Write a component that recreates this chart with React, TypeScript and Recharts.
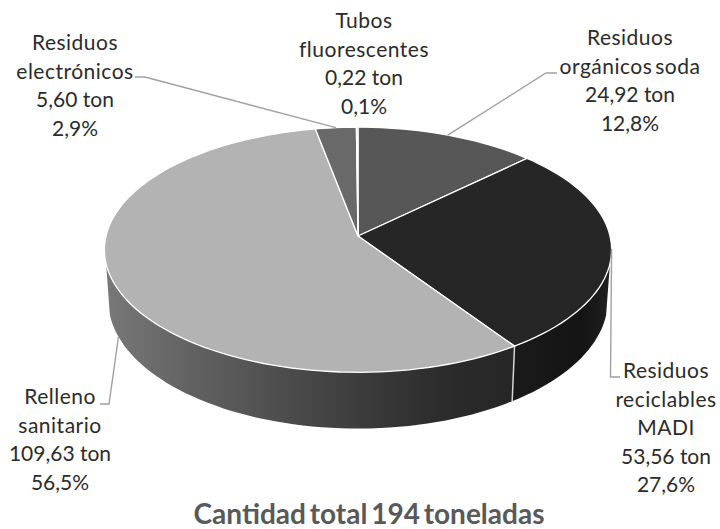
import React from "react";
import { Pie, PieChart } from "recharts";

// ── Data ───────────────────────────────────────────────────────────────────

const names = [
  "Residuos orgánicos soda",
  "Residuos reciclables MADI",
  "Relleno sanitario",
  "Residuos electrónicos",
  "Tubos fluorescentes",
];
const tons = [24.92, 53.56, 109.63, 5.6, 0.22];
const tonLabels = ["24,92 ton", "53,56 ton", "109,63 ton", "5,60 ton", "0,22 ton"];
const percentLabels = ["12,8%", "27,6%", "56,5%", "2,9%", "0,1%"];
const nameLines = [
  ["Residuos", "orgánicos soda"],
  ["Residuos", "reciclables", "MADI"],
  ["Relleno", "sanitario"],
  ["Residuos", "electrónicos"],
  ["Tubos", "fluorescentes"],
];
const title = "Cantidad total 194 toneladas";

const chartData = names.map((name, i) => ({ name, value: tons[i] }));

// ── Look ───────────────────────────────────────────────────────────────────

const topColors = ["#575757", "#262626", "#b3b3b3", "#696969", "#c4c4c4"];
const wallColors = ["#444", "url(#wallMadi)", "url(#wallRelleno)", "#444", "#444"];
const fontFamily = "Lato, 'Open Sans', sans-serif";

// text block centre + first baseline, and the elbow of the leader line
const labelBoxes = [
  { x: 630, y: 45, lineFrom: [557, 73], elbow: [546, 73], onWall: false, leader: true },
  { x: 666, y: 378, lineFrom: [620, 377], elbow: [610.5, 377], onWall: false, leader: true },
  { x: 60, y: 404, lineFrom: [100, 404], elbow: [109, 404], onWall: true, leader: true },
  { x: 75, y: 50, lineFrom: [135, 77], elbow: [145, 77], onWall: false, leader: true },
  { x: 364, y: 28, lineFrom: [358, 118], elbow: [358, 118], onWall: false, leader: false },
];

// ── Perspective of the tilted disc ─────────────────────────────────────────

const CX = 358;
const CY = 236;
const RADIUS = 252;
const SQUASH = 121;
const PERSPECTIVE = 0.112;
const DEPTH = 50;
// the side wall only shows between these two angles
const WALL_FROM = -13;
const WALL_TO = -167;

function project(angle: number, bottom = false) {
  const rad = (angle * Math.PI) / 180;
  const u = Math.cos(rad);
  const v = -Math.sin(rad);
  const w = 1 / (1 - PERSPECTIVE * v);
  if (bottom) {
    return { x: CX + RADIUS * u * w * 0.985, y: CY + SQUASH * v * w + DEPTH * w };
  }
  return { x: CX + RADIUS * u * w, y: CY + SQUASH * v * w };
}

function arc(from: number, to: number, bottom = false) {
  const steps = Math.max(2, Math.ceil(Math.abs(to - from) / 2));
  const pts: string[] = [];
  for (let i = 0; i <= steps; i++) {
    const p = project(from + ((to - from) * i) / steps, bottom);
    pts.push(`${p.x.toFixed(1)} ${p.y.toFixed(1)}`);
  }
  return pts;
}

// ── Sector shapes ──────────────────────────────────────────────────────────

function TopShape(props: any) {
  const { startAngle, endAngle, index } = props;
  const i = index ?? names.indexOf(props.name);
  const d = `M${CX} ${CY} L${arc(startAngle, endAngle).join(" L")} Z`;
  return <path d={d} fill={topColors[i]} stroke="#ffffff" strokeWidth={1.3} strokeLinejoin="round" />;
}

function WallShape(props: any) {
  const { startAngle, endAngle, index } = props;
  const i = index ?? names.indexOf(props.name);
  const hi = Math.min(startAngle, WALL_FROM);
  const lo = Math.max(endAngle, WALL_TO);
  if (hi <= lo) return <g />;
  const d = `M${arc(hi, lo).join(" L")} L${arc(lo, hi, true).join(" L")} Z`;
  // drawn on the later slice, otherwise its fill covers half of the line
  const showEdge = hi < WALL_FROM;
  const a = project(hi);
  const b = project(hi, true);
  return (
    <g>
      <path d={d} fill={wallColors[i]} />
      {showEdge && <line x1={a.x} y1={a.y} x2={b.x} y2={b.y} stroke="#d4d4d4" strokeWidth={1.5} />}
    </g>
  );
}

// ── Labels ─────────────────────────────────────────────────────────────────

function SliceLabel(props: any) {
  const { startAngle, endAngle, index } = props;
  const box = labelBoxes[index];
  const mid = (startAngle + endAngle) / 2;
  const anchor = project(mid, box.onWall);
  const textLines = nameLines[index];
  const lines = [...textLines, tonLabels[index], percentLabels[index]];
  return (
    <g>
      {box.leader && (
        <polyline
          points={`${box.lineFrom.join(",")} ${box.elbow.join(",")} ${anchor.x},${anchor.y}`}
          fill="none"
          stroke="#a0a0a0"
          strokeWidth={1.4}
        />
      )}
      <text x={box.x} y={box.y} textAnchor="middle" fontFamily={fontFamily} fontSize={21} fill="#2b2b2b">
        {lines.map((line, n) => (
          <tspan
            key={n}
            x={box.x}
            y={box.y + n * 28.5}
            letterSpacing={n < textLines.length ? 0.5 : 0}
            wordSpacing={n < textLines.length ? -3 : 0}
          >
            {line}
          </tspan>
        ))}
      </text>
    </g>
  );
}

// ── Main Component ─────────────────────────────────────────────────────────

export default function App() {
  return (
    <div style={{ position: "absolute", left: 0, top: 0, width: 720, height: 529, background: "#fff" }}>
      <PieChart width={720} height={529} margin={{ top: 0, right: 0, bottom: 0, left: 0 }}>
        <defs>
          <linearGradient id="wallRelleno" gradientUnits="userSpaceOnUse" x1={105} y1={0} x2={515} y2={0}>
            <stop offset="0%" stopColor="#787878" />
            <stop offset="25%" stopColor="#5e5e5e" />
            <stop offset="62%" stopColor="#3c3c3c" />
            <stop offset="85%" stopColor="#2a2a2a" />
            <stop offset="100%" stopColor="#262626" />
          </linearGradient>
          <linearGradient id="wallMadi" gradientUnits="userSpaceOnUse" x1={515} y1={0} x2={610} y2={0}>
            <stop offset="0%" stopColor="#1a1a1a" />
            <stop offset="70%" stopColor="#141414" />
            <stop offset="100%" stopColor="#202020" />
          </linearGradient>
        </defs>
        <Pie
          data={chartData}
          dataKey="value"
          nameKey="name"
          cx={CX}
          cy={CY}
          outerRadius={RADIUS}
          startAngle={90}
          endAngle={-270}
          stroke="none"
          isAnimationActive={false}
          shape={WallShape}
        />
        <Pie
          data={chartData}
          dataKey="value"
          nameKey="name"
          cx={CX}
          cy={CY}
          outerRadius={RADIUS}
          startAngle={90}
          endAngle={-270}
          stroke="none"
          isAnimationActive={false}
          shape={TopShape}
          label={SliceLabel}
          labelLine={false}
        />
        <text
          x={369}
          y={524}
          textAnchor="middle"
          fontFamily={fontFamily}
          fontSize={28}
          fontWeight={700}
          wordSpacing={-3}
          fill="#595959"
        >
          {title}
        </text>
      </PieChart>
    </div>
  );
}
